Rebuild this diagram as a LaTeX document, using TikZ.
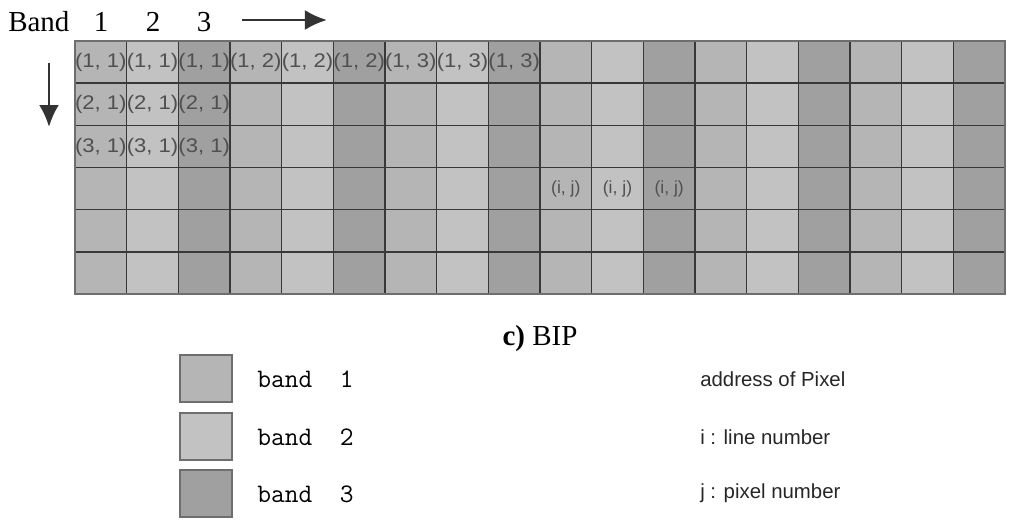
\documentclass[tikz,border=0pt]{standalone}
\usepackage{fontspec}
\setmainfont{Liberation Serif}
\setsansfont{Liberation Sans}
\usetikzlibrary{arrows.meta}
\definecolor{bandeins}{HTML}{B5B5B5}
\definecolor{bandzwei}{HTML}{C2C2C2}
\definecolor{banddrei}{HTML}{A0A0A0}
\definecolor{gitter}{HTML}{383838}
\definecolor{rand}{HTML}{6E6E6E}
\definecolor{schrift}{HTML}{505050}
\tikzset{
  gitterlinie/.style={gitter,line width=1.1pt},
  adr/.style={schrift,inner sep=0pt,xscale=1.12,font=\sffamily\fontsize{14}{14}\selectfont},
  adrk/.style={schrift,inner sep=0pt,font=\sffamily\fontsize{12.5}{12.5}\selectfont},
  pfeil/.style={-{Latex[length=5.5mm,width=5mm]},black!80,line width=2pt},
  legfeld/.style={draw=rand,line width=0.9pt},
  legband/.style={anchor=west,inner sep=0pt,font=\ttfamily\fontsize{19}{19}\selectfont},
  legtext/.style={anchor=west,inner sep=0pt,black!85,font=\sffamily\fontsize{14.5}{14.5}\selectfont},
  kopf/.style={inner sep=0pt,anchor=base,font=\fontsize{20.6}{24}\selectfont},
}

\begin{document}
\begin{tikzpicture}[x=0.025cm,y=-0.025cm]
  \useasboundingbox (0,0) rectangle (1012,528);
  % Kopfzeile
  \node[kopf,anchor=base west] (band) at (8,31) {Band};
  \node[kopf] (b1) at (101,31) {1};
  \node[kopf] (b2) at (153,31) {2};
  \node[kopf] (b3) at (204,31) {3};
  \coordinate (pr0) at (242,20);
  \coordinate (pr1) at (327,20);
  \draw[pfeil] (pr0) -- (pr1);
  \coordinate (pd0) at (49,63);
  \coordinate (pd1) at (49,127);
  \draw[pfeil] (pd0) -- (pd1);
  % Raster: Spalten wechseln band 1, 2, 3
  \foreach \x in {0,3,...,15}
    \fill[bandeins] ({75+\x*51.667},41) rectangle ++(51.667,253);
  \foreach \x in {1,4,...,16}
    \fill[bandzwei] ({75+\x*51.667},41) rectangle ++(51.667,253);
  \foreach \x in {2,5,...,17}
    \fill[banddrei] ({75+\x*51.667},41) rectangle ++(51.667,253);
  \foreach \x in {1,...,17}
    \draw[gitterlinie] ({75+\x*51.667},41) -- ++(0,253);
  \foreach \y in {1,...,5}
    \draw[gitterlinie] (75,{41+\y*42.17}) -- ++(930,0);
  \draw[rand,line width=1.2pt] (75,41) rectangle (1005,294);
  % Pixeladressen
  \foreach \k in {0,...,8} {
    \pgfmathtruncatemacro\j{int(\k/3)+1}
    \node[adr] (z1-\k) at ({75+(\k+0.5)*51.667},62) {(1, \j)};
  }
  \foreach \k in {0,1,2} {
    \node[adr] (z2-\k) at ({75+(\k+0.5)*51.667},104) {(2, 1)};
    \node[adr] (z3-\k) at ({75+(\k+0.5)*51.667},147) {(3, 1)};
  }
  \foreach \k in {9,10,11}
    \node[adrk] (zi-\k) at ({75+(\k+0.5)*51.667},189) {(i, j)};
  % Titel
  \node[kopf] (titel) at (540,345) {\textbf{c)} BIP};
  % Legende
  \draw[legfeld,fill=bandeins] (180,355) rectangle (232,402);
  \draw[legfeld,fill=bandzwei] (180,413) rectangle (232,460);
  \draw[legfeld,fill=banddrei] (180,470) rectangle (232,517);
  \node[legband] (l1) at (257,379) {band\ \ 1};
  \node[legband] (l2) at (257,437) {band\ \ 2};
  \node[legband] (l3) at (257,494) {band\ \ 3};
  \node[legtext] (r1) at (700,379) {address of Pixel};
  \node[legtext] (r2) at (700,437) {i : line number};
  \node[legtext] (r3) at (700,493) {j : pixel number};
\end{tikzpicture}
\end{document}
